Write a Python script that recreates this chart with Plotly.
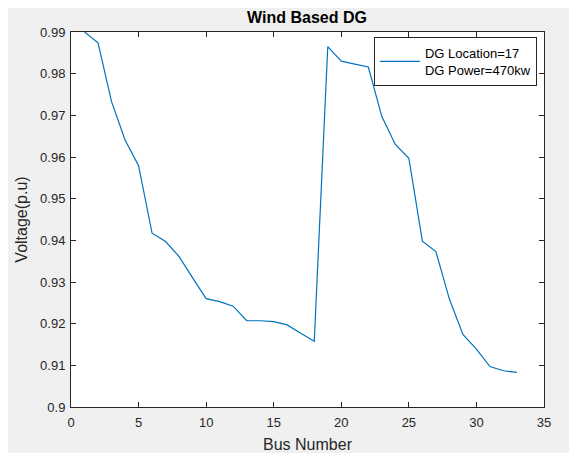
import plotly.graph_objects as go

bus = list(range(1, 34))
voltage = [0.9900, 0.9874, 0.9733, 0.9641, 0.9579, 0.9417, 0.9397, 0.9361, 0.9310, 0.9260,
           0.9253, 0.9242, 0.9207, 0.9207, 0.9205, 0.9197, 0.9177, 0.9158, 0.9865, 0.9830,
           0.9823, 0.9816, 0.9697, 0.9630, 0.9597, 0.9398, 0.9373, 0.9259, 0.9174, 0.9139,
           0.9097, 0.9087, 0.9083]
series_name = "DG Location=17<br>DG Power=470kw"
title_text = "Wind Based DG"
x_title = "Bus Number"
y_title = "Voltage(p.u)"

FONT = "Liberation Sans, Arial, Helvetica"

fig = go.Figure()
fig.add_trace(go.Scatter(x=bus, y=voltage, mode="lines", name=series_name,
                         line=dict(color="#0072BD", width=1.2), showlegend=True))

axis_common = dict(showline=True, linecolor="#262626", linewidth=1, mirror="ticks",
                   ticks="inside", ticklen=5, tickcolor="#262626", showgrid=False,
                   zeroline=False, automargin=False,
                   tickfont=dict(family=FONT, size=13, color="#262626"))

fig.update_layout(
    width=569, height=445,
    paper_bgcolor="#f0f0f0", plot_bgcolor="white",
    margin=dict(l=63, r=33, t=24, b=46),
    title=dict(text="<b>" + title_text + "</b>", x=0.5255, xanchor="center", y=0.980, yanchor="middle",
               font=dict(family=FONT, size=16, color="black")),
    xaxis=dict(range=[0, 35], dtick=5, tick0=0, ticklabelstandoff=3,
               title=dict(text=x_title, font=dict(family=FONT, size=16, color="#262626"), standoff=12),
               **axis_common),
    yaxis=dict(range=[0.9, 0.99], dtick=0.01, tick0=0.9, ticklabelstandoff=2,
               title=dict(text=y_title, font=dict(family=FONT, size=16, color="#262626"), standoff=8),
               **axis_common),
    legend=dict(x=0.985, y=0.987, xanchor="right", yanchor="top", bgcolor="white",
                bordercolor="#262626", borderwidth=1, itemwidth=40,
                font=dict(family=FONT, size=13, color="black")),
)

fig.write_html("out.html")
